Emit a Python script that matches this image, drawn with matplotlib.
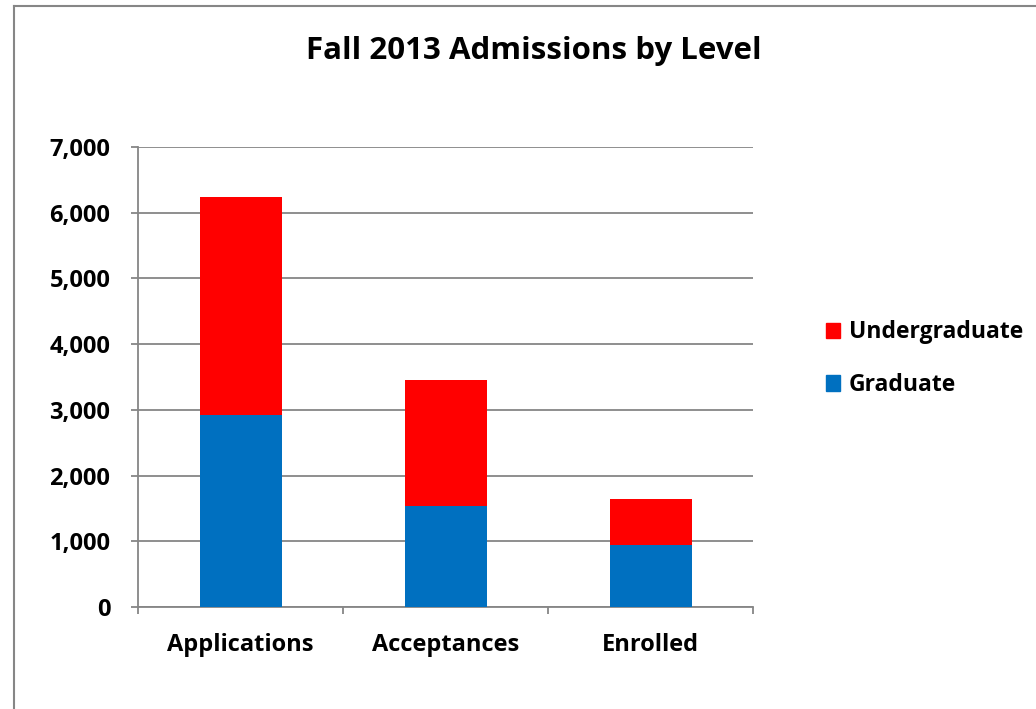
import matplotlib.pyplot as plt
from matplotlib.lines import Line2D
from matplotlib.patches import Patch

plt.rcParams['font.family'] = ['Open Sans', 'DejaVu Sans']
plt.rcParams['font.weight'] = 'bold'

# Data
categories = ["Applications", "Acceptances", "Enrolled"]
graduate = [2920, 1540, 945]
undergraduate = [3320, 1915, 700]

fig = plt.figure(figsize=(10.36, 7.09), dpi=100)
ax = fig.add_axes([138 / 1036, 102 / 709, 615 / 1036, 460 / 709])

x = range(len(categories))
ax.bar(x, graduate, width=0.4, color="#0070C0", label="Graduate", zorder=3)
ax.bar(x, undergraduate, width=0.4, bottom=graduate, color="#FF0000",
       label="Undergraduate", zorder=3)

ax.set_xlim(-0.5, 2.5)
ax.set_ylim(0, 7000)
ax.set_yticks(range(0, 7001, 1000))
ax.set_yticklabels([f"{v:,}" for v in range(0, 7001, 1000)])
ax.grid(axis="y", color="#868686", linewidth=1.3, zorder=0)

# category boundaries as major ticks, labels on minor ticks
ax.set_xticks([-0.5, 0.5, 1.5, 2.5])
ax.set_xticklabels([])
ax.set_xticks(list(x), minor=True)
ax.set_xticklabels(categories, minor=True)
ax.tick_params(axis="x", which="major", length=5, color="#868686", width=1.3)
ax.tick_params(axis="x", which="minor", length=0, pad=19, labelsize=17)
ax.tick_params(axis="y", length=5, color="#868686", width=1.3, pad=15,
               labelsize=17)

for side in ["top", "right"]:
    ax.spines[side].set_visible(False)
for side in ["left", "bottom"]:
    ax.spines[side].set_color("#868686")
    ax.spines[side].set_linewidth(1.3)

fig.suptitle("Fall 2013 Admissions by Level", x=0.515, y=0.949,
             fontsize=22.5, fontweight="bold")

handles = [Patch(color="#FF0000"), Patch(color="#0070C0")]
fig.legend(handles, ["Undergraduate", "Graduate"], loc="center left",
           bbox_to_anchor=(0.777, 0.494), frameon=False, fontsize=16.5,
           handlelength=0.65, handleheight=0.65, handletextpad=0.35,
           labelspacing=1.25)

# outer chart border (left and top visible)
fig.add_artist(Line2D([14 / 1036, 14 / 1036], [0, 1 - 6 / 709],
                      transform=fig.transFigure, color="#868686", lw=1.5))
fig.add_artist(Line2D([14 / 1036, 1], [1 - 6 / 709, 1 - 6 / 709],
                      transform=fig.transFigure, color="#868686", lw=1.5))

fig.savefig("out.png", dpi=100)
